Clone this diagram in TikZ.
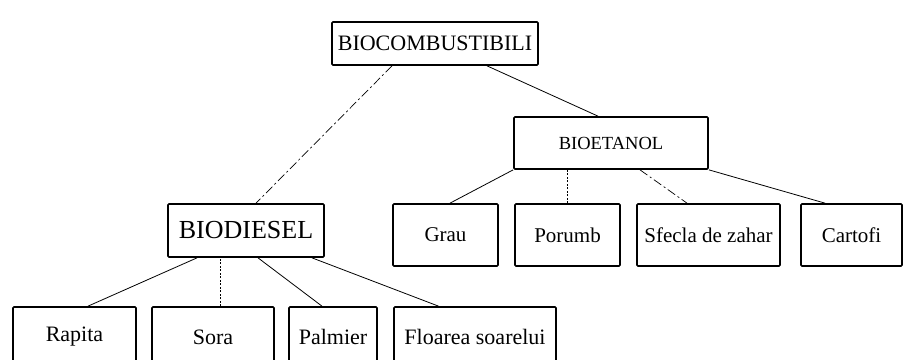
\documentclass[tikz,border=0pt]{standalone}
\usepackage{fontspec}
\setmainfont{Liberation Serif}
\begin{document}
\begin{tikzpicture}[x=1pt,y=-1pt,
  box/.style={draw,line width=1.7pt,rounded corners=1pt,inner sep=0pt,anchor=center},
  link/.style={line width=0.8pt},
  dashlink/.style={line width=0.7pt,dash pattern=on 9pt off 3pt on 2pt off 3pt},
  dotlink/.style={line width=0.6pt,dash pattern=on 2pt off 1.5pt},
  f26/.style={font=\fontsize{26}{30}\selectfont},
  f22/.style={font=\fontsize{22}{26}\selectfont},
  f21/.style={font=\fontsize{21}{25}\selectfont},
  f18/.style={font=\fontsize{18.5}{22}\selectfont}]
\useasboundingbox (0,0) rectangle (909,359);
\clip (0,0) rectangle (909,359);
% top level
\node[box,f22,minimum width=206pt,minimum height=43pt] (top) at (435,43.5) {BIOCOMBUSTIBILI};
\node[box,f18,minimum width=194pt,minimum height=52pt] (etanol) at (611,143) {BIOETANOL};
\node[box,f26,minimum width=156pt,minimum height=53pt] (diesel) at (246,230.5) {BIODIESEL};
% middle row
\node[box,f21,minimum width=105pt,minimum height=62pt] (grau) at (445.5,235) {Grau};
\node[box,f21,minimum width=105pt,minimum height=62pt] (porumb) at (567.5,235) {Porumb};
\node[box,f21,minimum width=143pt,minimum height=62pt] (sfecla) at (708.5,235) {Sfecla de zahar};
\node[box,f21,minimum width=101pt,minimum height=62pt] (cartofi) at (851.5,235) {Cartofi};
% bottom row
\node[box,f22,minimum width=123pt,minimum height=60pt] (rapita) at (74.5,337) {Rapita};
\node[box,f22,minimum width=122pt,minimum height=60pt] (sora) at (213,337) {Sora};
\node[box,f22,minimum width=88pt,minimum height=60pt] (palmier) at (333,337) {Palmier};
\node[box,f22,minimum width=162pt,minimum height=60pt] (floarea) at (475,337) {Floarea soarelui};
% connectors
\draw[dashlink] ([xshift=-43pt]top.south) -- ([xshift=10pt]diesel.north);
\draw[link] ([xshift=52pt]top.south) -- ([xshift=-13pt]etanol.north);
\draw[link] (etanol.south west) -- ([xshift=4.5pt]grau.north);
\draw[dotlink] (porumb.north) -- (porumb.north |- etanol.south);
\draw[dashlink] ([xshift=29pt]etanol.south) -- ([xshift=-21.5pt]sfecla.north);
\draw[link] (etanol.south east) -- ([xshift=-26.5pt]cartofi.north);
\draw[link] ([xshift=-49pt]diesel.south) -- ([xshift=13.5pt]rapita.north);
\draw[dotlink] ([xshift=7pt]sora.north) -- ([xshift=7pt]sora.north |- diesel.south);
\draw[link] ([xshift=12pt]diesel.south) -- ([xshift=-11pt]palmier.north);
\draw[link] ([xshift=66pt]diesel.south) -- ([xshift=-36.5pt]floarea.north);
\end{tikzpicture}
\end{document}
